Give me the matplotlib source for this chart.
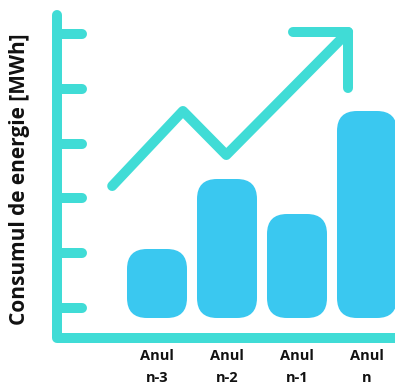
import matplotlib.pyplot as plt
from matplotlib.patches import FancyBboxPatch

# data (y in chart units above the axis line, x in category positions)
categories = ["Anul\nn-3", "Anul\nn-2", "Anul\nn-1", "Anul\nn"]
bar_values = [89, 159, 124, 227]
bar_base = 20
tick_values = [30, 85, 140, 194, 249, 304]
trend_x = [-0.64, 0.37, 0.99, 2.73]
trend_y = [152, 227, 183, 306]
head_x = [1.94, 2.73, 2.73]
head_y = [306, 306, 250]

teal = "#40dcd6"
blue = "#3ac8f0"
font = ["Open Sans", "DejaVu Sans"]

W, H = 395, 386
fig = plt.figure(figsize=(W / 100, H / 100), dpi=100)
ax = fig.add_axes([57 / W, 48 / H, 338 / W, 338 / H])
x_left, x_right = -100 / 70, 238 / 70
ax.set_xlim(x_left, x_right)
ax.set_ylim(0, 338)
for s in ax.spines.values():
    s.set_visible(False)
ax.set_yticks([])
ax.set_xticks(range(len(categories)))
ax.set_xticklabels(categories, fontsize=10.5, fontweight="bold",
                   family=font, linespacing=1.75, color="#111111")
ax.tick_params(axis="x", length=0, pad=8)

# rounded bars, corrected for unequal axis scales
px_x = 338 / (x_right - x_left)
aspect = px_x / 1.0
bw = 60 / px_x
for i, v in enumerate(bar_values):
    ax.add_patch(FancyBboxPatch((i - bw / 2, bar_base), bw, v - bar_base,
                                boxstyle="round,pad=0,rounding_size=%f" % (20 / px_x),
                                mutation_aspect=aspect, fc=blue, ec="none",
                                clip_on=False))

lw = 7.2
# axis lines
ax.plot([x_left, x_left, x_right + 0.2], [323, 0, 0], color=teal, lw=lw,
        solid_capstyle="round", solid_joinstyle="round", clip_on=False)
ticks = ax.hlines(tick_values, x_left, x_left + 25 / px_x, color=teal, lw=lw)
ticks.set_capstyle("round")

# trend arrow
ax.plot(trend_x, trend_y, color=teal, lw=lw, solid_capstyle="round",
        solid_joinstyle="round")
ax.plot(head_x, head_y, color=teal, lw=lw, solid_capstyle="round",
        solid_joinstyle="round")

fig.text(20 / W, 1 - 179 / H, "Consumul de energie [MWh]", rotation=90,
         ha="center", va="center", fontsize=15, fontweight="bold",
         family=font, color="#111111")

fig.savefig("out.png", dpi=100)
